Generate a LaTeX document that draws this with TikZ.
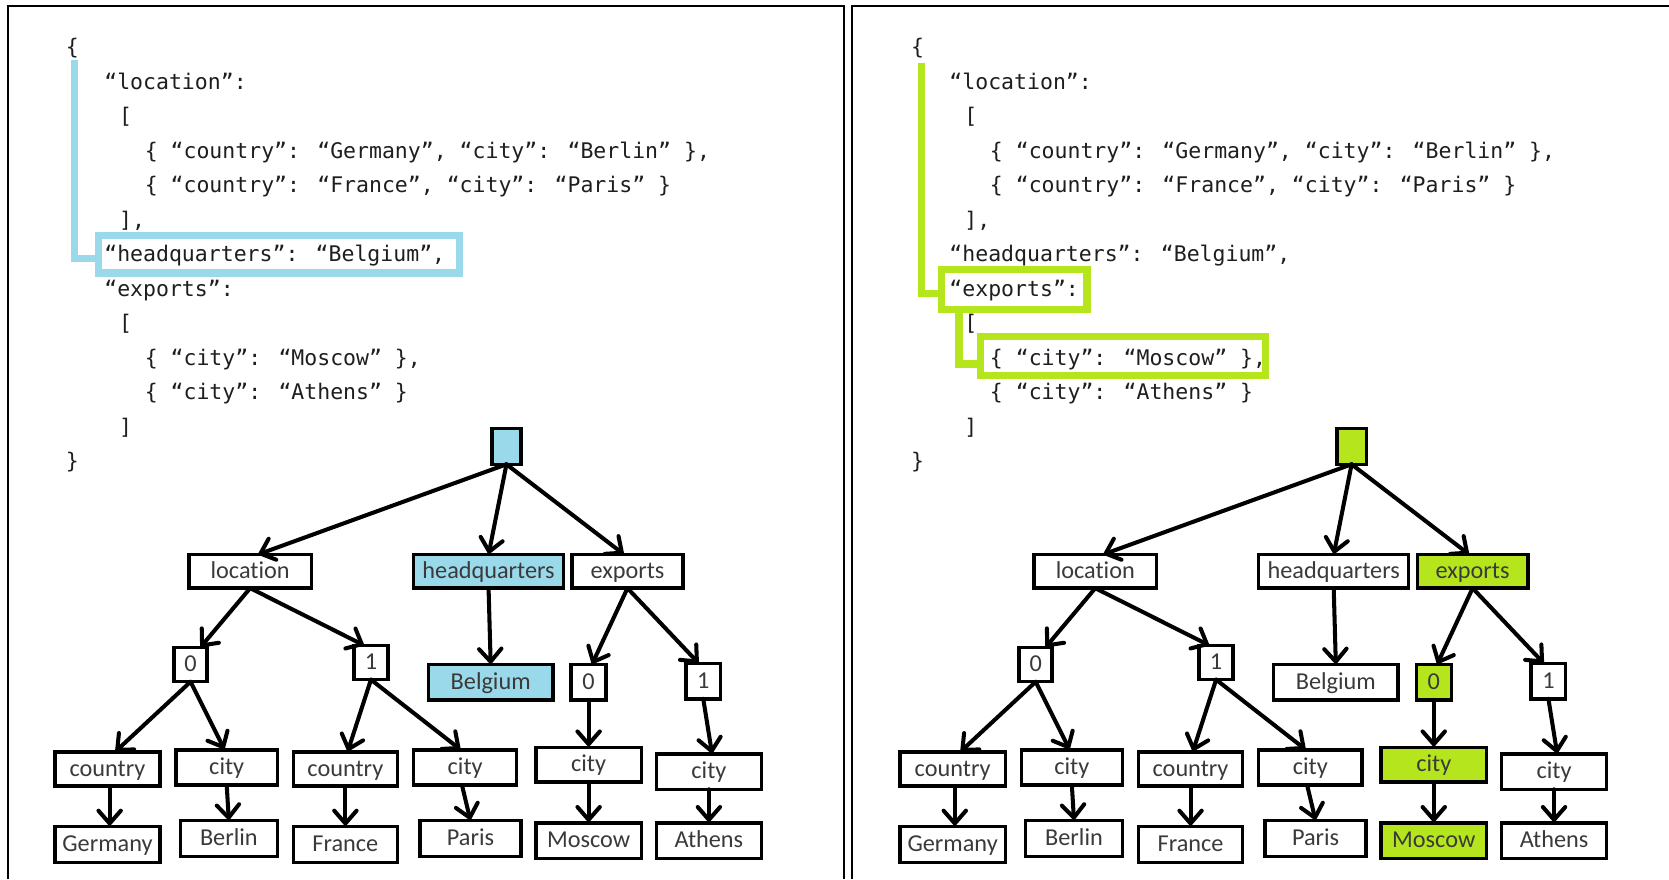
\documentclass[tikz,border=0pt]{standalone}
\usepackage{fontspec}
\setmainfont{Carlito}[Ligatures=NoCommon]
\newfontfamily\codefont{DejaVu Sans Mono}
\usetikzlibrary{arrows.meta}
\definecolor{hlblue}{HTML}{99D9EA}
\definecolor{hlgreen}{HTML}{B5E61D}
\definecolor{inkgray}{HTML}{3A3A3A}
\definecolor{codeink}{HTML}{1E1E1E}

% JSON listing: one node per line, placed by its baseline
\newcommand\jsonlines[1]{%
  \node[code] (#1l1)  at (62,51.5)  {\{};
  \node[code] (#1l2)  at (98,83.9)  {“location”:};
  \node[code] (#1l3)  at (112,116.3) {[};
  \node[code] (#1l4)  at (136,148.7) {\{ “country”: “Germany”, “city”: “Berlin” \},};
  \node[code] (#1l5)  at (136,181.1) {\{ “country”: “France”, “city”: “Paris” \}};
  \node[code] (#1l6)  at (112,213.5) {],};
  \node[code] (#1l7)  at (98,245.9)  {“headquarters”: “Belgium”,};
  \node[code] (#1l8)  at (98,278.3)  {“exports”:};
  \node[code] (#1l9)  at (112,310.7) {[};
  \node[code] (#1l10) at (136,343.1) {\{ “city”: “Moscow” \},};
  \node[code] (#1l11) at (136,375.5) {\{ “city”: “Athens” \}};
  \node[code] (#1l12) at (112,407.9) {]};
  \node[code] (#1l13) at (62,440.3)  {\}};
}

% tree of the same document
\newcommand\jsontree[1]{%
  \node[box, froot, minimum width=13.75pt, minimum height=16.9pt] (#1root) at (475.8,419.3) {};
  \node[box, minimum width=57.5pt, minimum height=15.75pt] (#1loc) at (235,536.8) {location};
  \node[box, fhq, minimum width=70.5pt, minimum height=15.75pt] (#1hq) at (459,536.8) {headquarters};
  \node[box, fexp, minimum width=52pt, minimum height=15.75pt] (#1exp) at (589.5,536.8) {exports};
  \node[box, minimum width=15.5pt, minimum height=16pt] (#1lz) at (179,624.5) {0};
  \node[box, minimum width=16pt, minimum height=16pt] (#1lo) at (348.5,622.5) {1};
  \node[box, fbel, minimum width=58.5pt, minimum height=16.5pt] (#1bel) at (461,641) {Belgium};
  \node[box, fez, minimum width=16.5pt, minimum height=16.5pt] (#1ez) at (553,641) {0};
  \node[box, minimum width=16.25pt, minimum height=16.5pt] (#1eo) at (660.7,640) {1};
  \node[box, minimum width=49.5pt, minimum height=16pt] (#1coa) at (101,722.5) {country};
  \node[box, minimum width=47.5pt, minimum height=16.5pt] (#1cia) at (213,721) {city};
  \node[box, minimum width=49pt, minimum height=16pt] (#1cob) at (324.5,722.5) {country};
  \node[box, minimum width=48.5pt, minimum height=16.5pt] (#1cib) at (437,721) {city};
  \node[box, fec, minimum width=49.5pt, minimum height=16.25pt] (#1cic) at (553,718.3) {city};
  \node[box, minimum width=49.5pt, minimum height=16.5pt] (#1cid) at (666,725) {city};
  \node[box, minimum width=49.5pt, minimum height=17pt] (#1ger) at (101,793.5) {Germany};
  \node[box, minimum width=45.5pt, minimum height=16.75pt] (#1ber) at (215,787.8) {Berlin};
  \node[box, minimum width=49pt, minimum height=17pt] (#1fra) at (324.5,793.5) {France};
  \node[box, minimum width=47.5pt, minimum height=16.75pt] (#1par) at (442,787.8) {Paris};
  \node[box, fmos, minimum width=49.5pt, minimum height=16.75pt] (#1mos) at (553,789.8) {Moscow};
  \node[box, minimum width=49.5pt, minimum height=16.75pt] (#1ath) at (666,789.8) {Athens};
  \draw[arr] (#1root.south) -- ([xshift=3.5pt]#1loc.north);
  \draw[arr] (#1root.south) -- (#1hq.north);
  \draw[arr] (#1root.south) -- ([xshift=-1.5pt]#1exp.north);
  \draw[arr] (#1loc.south) -- ([xshift=4.5pt]#1lz.north);
  \draw[arr] (#1loc.south) -- ([xshift=-3pt]#1lo.north);
  \draw[arr] (#1hq.south) -- (#1bel.north);
  \draw[arr] (#1exp.south) -- ([xshift=1.5pt]#1ez.north);
  \draw[arr] (#1exp.south) -- ([xshift=-2pt]#1eo.north);
  \draw[arr] (#1lz.south) -- ([xshift=3.5pt]#1coa.north);
  \draw[arr] (#1lz.south) -- ([xshift=-1pt]#1cia.north);
  \draw[arr] (#1lo.south) -- ([xshift=1pt]#1cob.north);
  \draw[arr] (#1lo.south) -- ([xshift=-2pt]#1cib.north);
  \draw[arr] (#1ez.south) -- (#1cic.north);
  \draw[arr] (#1eo.south) -- ([xshift=1.5pt]#1cid.north);
  \draw[arr] ([xshift=1pt]#1coa.south) -- ([xshift=1pt]#1ger.north);
  \draw[arr] (#1cia.south) -- (#1ber.north);
  \draw[arr] (#1cob.south) -- (#1fra.north);
  \draw[arr] ([xshift=-1.5pt]#1cib.south) -- (#1par.north);
  \draw[arr] (#1cic.south) -- (#1mos.north);
  \draw[arr] (#1cid.south) -- (#1ath.north);
}

\begin{document}
\begin{tikzpicture}[x=0.5pt,y=-0.5pt,
  frame/.style={line width=1.2pt, draw=black},
  code/.style={anchor=base west, inner sep=0pt, outer sep=0pt, text=codeink,
    font=\codefont\fontsize{10.1}{12}\selectfont},
  box/.style={draw=black, line width=1.6pt, fill=white, inner sep=0pt, outer sep=0pt,
    text=inkgray, text height=8.6pt, text depth=2pt, font=\fontsize{11.4}{13}\selectfont},
  arr/.style={line width=1.9pt, line cap=round,
    -{Straight Barb[length=6pt,width=10.5pt,line cap=round]}},
  hlmark/.style={line width=3.4pt},
  hlbox/.style={hlmark, inner sep=0pt, outer sep=0pt},
  froot/.style={}, fhq/.style={}, fexp/.style={}, fbel/.style={},
  fez/.style={}, fec/.style={}, fmos/.style={}]
\useasboundingbox (0,0) rectangle (1568,826);

% panel frames
\draw[frame] (7.5,826) -- (7.5,5.7) -- (793,5.7) -- (793,826);
\draw[frame] (800.5,826) -- (800.5,5.7) -- (1568,5.7);

% left panel: the "headquarters" member
\begin{scope}[froot/.style={fill=hlblue}, fhq/.style={fill=hlblue}, fbel/.style={fill=hlblue}]
  \jsonlines{L}
  \node[hlbox, draw=hlblue, minimum width=169.7pt, minimum height=17.5pt] (Lhqmark) at (262,239) {};
  \coordinate (Lbar) at (70,56.4);
  \coordinate (Lbend) at (70,242.5);
  \draw[hlmark, hlblue] (Lbar) -- (Lbend) -- (Lbend -| Lhqmark.west);
  \jsontree{L}
\end{scope}

% right panel: the first element of "exports"
\begin{scope}[xshift=397pt, froot/.style={fill=hlgreen}, fexp/.style={fill=hlgreen},
  fez/.style={fill=hlgreen}, fec/.style={fill=hlgreen}, fmos/.style={fill=hlgreen}]
  \jsonlines{R}
  \node[hlbox, draw=hlgreen, minimum width=68.3pt, minimum height=18.8pt] (Rexpmark) at (159,272) {};
  \node[hlbox, draw=hlgreen, minimum width=134pt, minimum height=18.5pt] (Rmosmark) at (261,334.5) {};
  \coordinate (Rbar) at (72,59.5);
  \coordinate (Rbend) at (72,276);
  \coordinate (Rsub) at (107,342);
  \draw[hlmark, hlgreen] (Rbar) -- (Rbend) -- (Rbend -| Rexpmark.west);
  \draw[hlmark, hlgreen] (Rexpmark.south -| Rsub) -- (Rsub) -- (Rmosmark.west |- Rsub);
  \jsontree{R}
\end{scope}
\end{tikzpicture}
\end{document}
